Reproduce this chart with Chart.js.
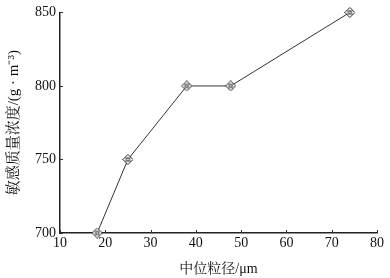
<!DOCTYPE html>
<html>
<head>
<meta charset="utf-8">
<script src="https://cdn.jsdelivr.net/npm/chart.js@4"></script>
<style>
  html, body { margin: 0; padding: 0; background: #fff; }
  #wrap { width: 390px; height: 278px; position: relative; }
</style>
</head>
<body>
<div id="wrap"><canvas id="sizeChart"></canvas></div>
<script>
// data
const medianSize = [18.2, 25, 38, 47.7, 74];
const concentration = [700, 750, 800, 800, 850];
const xRange = [10, 80];
const yRange = [700, 850];
const xStep = 10;
const yStep = 50;

const FONT = "'Liberation Serif', 'Noto Serif CJK SC', 'Noto Sans CJK SC', serif";

// diamond marker with a small dot in the middle
function makeMarker() {
  const c = document.createElement('canvas');
  c.width = 11; c.height = 11;
  const g = c.getContext('2d');
  g.strokeStyle = '#222';
  g.lineWidth = 1;
  g.fillStyle = '#fff';
  g.beginPath();
  g.moveTo(5.5, 0.5); g.lineTo(10.5, 5.5); g.lineTo(5.5, 10.5); g.lineTo(0.5, 5.5);
  g.closePath();
  g.fill(); g.stroke();
  g.strokeRect(4, 4, 3, 3);
  return c;
}

// inward tick marks along both axes
const innerTicks = {
  id: 'innerTicks',
  afterDatasetsDraw(chart) {
    const ctx = chart.ctx, x = chart.scales.x, y = chart.scales.y;
    const area = chart.chartArea;
    ctx.save();
    ctx.strokeStyle = '#333';
    ctx.lineWidth = 1;
    ctx.beginPath();
    x.ticks.forEach(t => {
      const px = Math.round(x.getPixelForValue(t.value)) + 0.5;
      ctx.moveTo(px, area.bottom); ctx.lineTo(px, area.bottom - 3);
    });
    y.ticks.forEach(t => {
      const py = Math.round(y.getPixelForValue(t.value)) + 0.5;
      ctx.moveTo(area.left, py); ctx.lineTo(area.left + 3, py);
    });
    ctx.stroke();
    ctx.restore();
  }
};

new Chart(document.getElementById('sizeChart'), {
  type: 'line',
  data: {
    datasets: [{
      data: medianSize.map((v, i) => ({ x: v, y: concentration[i] })),
      borderColor: '#333',
      borderWidth: 1,
      pointStyle: makeMarker(),
      clip: false
    }]
  },
  options: {
    responsive: true,
    maintainAspectRatio: false,
    animation: false,
    layout: { padding: { top: 9, right: 13, left: 0, bottom: 0 } },
    plugins: { legend: { display: false }, tooltip: { enabled: false } },
    scales: {
      x: {
        type: 'linear',
        min: xRange[0], max: xRange[1],
        afterFit(s) { s.height = 45; },
        border: { color: '#222', width: 1.5 },
        grid: { display: false, drawTicks: false },
        ticks: { stepSize: xStep, color: '#111', padding: 2, font: { family: FONT, size: 14 } },
        title: {
          display: true, text: '中位粒径/μm', color: '#111',
          padding: { top: 4, bottom: 0 },
          font: { family: FONT, size: 14 }
        }
      },
      y: {
        min: yRange[0], max: yRange[1],
        afterFit(s) { s.width = 60; },
        border: { color: '#222', width: 1.5 },
        grid: { display: false, drawTicks: false },
        ticks: { stepSize: yStep, color: '#111', padding: 4, font: { family: FONT, size: 14 } },
        title: {
          display: true, text: '敏感质量浓度/(g · m⁻³)', color: '#111',
          padding: { top: 5, bottom: 0 },
          font: { family: FONT, size: 15 }
        }
      }
    }
  },
  plugins: [innerTicks]
});
</script>
</body>
</html>
